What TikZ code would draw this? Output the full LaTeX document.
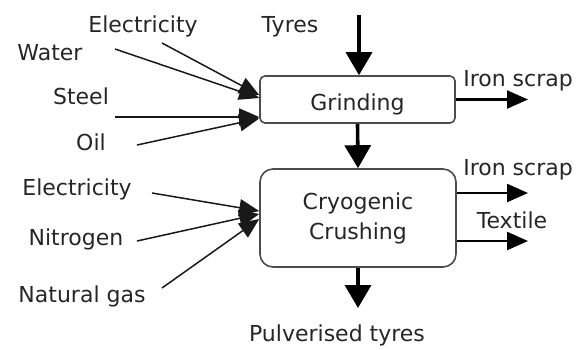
\documentclass[tikz,border=0pt]{standalone}
\usepackage{fontspec}
\setmainfont{DejaVu Sans}
\usetikzlibrary{arrows.meta,calc}
\begin{document}
\begin{tikzpicture}[x=1pt,y=-1pt, line join=round, font=\fontsize{22}{30}\selectfont,
	lbl/.style={anchor=base, text=black!85, inner sep=0pt},
	procbox/.style={draw=black!70, line width=1.6pt, fill=white, align=center, text=black!85},
	inarrow/.style={-{Triangle[length=20pt,width=17pt]}, line width=1.5pt, black!90},
	outarrow/.style={-{Triangle[length=21pt,width=18pt]}, line width=2.4pt},
	mainarrow/.style={-{Triangle[length=23pt,width=26pt]}, line width=3.6pt}]
	\useasboundingbox (0,0) rectangle (580,349);
	% process boxes
	\node[procbox, rounded corners=5pt, minimum width=195pt, minimum height=47pt, text height=21pt, text depth=0pt] (grind) at (357.5,99.5) {Grinding};
	\node[procbox, rounded corners=13pt, minimum width=196pt, minimum height=98pt] (cryo) at (358,218) {Cryogenic\\Crushing};
	% labels
	\node[lbl] (tyres) at (290,32) {Tyres};
	\node[lbl] (elec1) at (143,32) {Electricity};
	\node[lbl] (water) at (50,60) {Water};
	\node[lbl] (steel) at (81,104) {Steel};
	\node[lbl] (oil) at (91,150) {Oil};
	\node[lbl] (elec2) at (77,195) {Electricity};
	\node[lbl] (nitro) at (76,245) {Nitrogen};
	\node[lbl] (gas) at (82,302) {Natural gas};
	\node[lbl] (pulv) at (337,341) {Pulverised tyres};
	\node[lbl] (iron1) at (518,86) {Iron scrap};
	\node[lbl] (iron2) at (518,175) {Iron scrap};
	\node[lbl] (textile) at (512,228) {Textile};
	% free ends
	\coordinate (tyresin) at (359,15);
	\coordinate (pulvend) at (358,308);
	\coordinate (iron1end) at (528,99.5);
	\coordinate (iron2end) at (528,193);
	\coordinate (textend) at (528,241);
	\coordinate (elec1s) at (162,43);
	\coordinate (waters) at (115,49);
	\coordinate (steels) at (115,117);
	\coordinate (oils) at (137,145);
	\coordinate (elec2s) at (152,193);
	\coordinate (nitros) at (137,241);
	\coordinate (gass) at (162,288);
	% main flow
	\draw[mainarrow] (tyresin) -- (tyresin |- grind.north);
	\draw[mainarrow] (grind.south) -- (cryo.north);
	\draw[mainarrow] (cryo.south) -- (pulvend);
	% outputs
	\draw[outarrow] (grind.east) -- (iron1end);
	\draw[outarrow] (cryo.east |- iron2end) -- (iron2end);
	\draw[outarrow] (cryo.east |- textend) -- (textend);
	% inputs
	\draw[inarrow] (elec1s) -- ($(grind.west)+(0,-4.5)$);
	\draw[inarrow] (waters) -- ($(grind.west)+(0,-1.5)$);
	\draw[inarrow] (steels) -- ($(grind.west)+(0,17.5)$);
	\draw[inarrow] (oils) -- ($(grind.west)+(0,19)$);
	\draw[inarrow] (elec2s) -- ($(cryo.west)+(0,-7)$);
	\draw[inarrow] (nitros) -- ($(cryo.west)+(0,-4)$);
	\draw[inarrow] (gass) -- ($(cryo.west)+(0,1)$);
\end{tikzpicture}
\end{document}
